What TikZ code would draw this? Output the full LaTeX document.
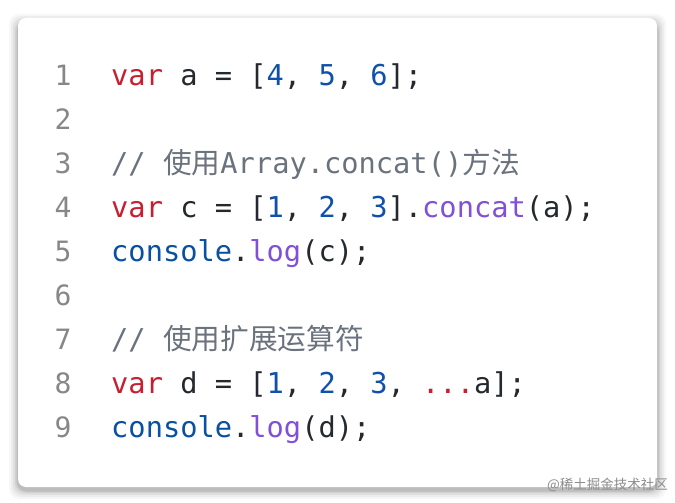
\documentclass[tikz,border=0pt]{standalone}
\usepackage{fontspec}
\setmonofont{DejaVu Sans Mono}
\newfontfamily\cjk{Noto Sans CJK SC}
\definecolor{kw}{RGB}{200,30,50}
\definecolor{num}{RGB}{15,80,170}
\definecolor{fn}{RGB}{130,80,215}
\definecolor{obj}{RGB}{10,80,160}
\definecolor{cm}{RGB}{106,115,125}
\definecolor{pn}{RGB}{36,41,46}
\definecolor{ln}{RGB}{135,135,135}
\newcommand{\cK}[1]{\textcolor{kw}{#1}}
\newcommand{\cN}[1]{\textcolor{num}{#1}}
\newcommand{\cF}[1]{\textcolor{fn}{#1}}
\newcommand{\cO}[1]{\textcolor{obj}{#1}}
\begin{document}
\begin{tikzpicture}[x=1pt,y=-1pt,
  code/.style={anchor=base west,inner sep=0pt,text=pn,font=\fontsize{28.7}{30}\selectfont\ttfamily},
  lnum/.style={anchor=base,inner sep=0pt,text=ln,font=\fontsize{28}{30}\selectfont\ttfamily}]
\useasboundingbox (0,0) rectangle (675,503);
\fill[white] (0,0) rectangle (675,503);
\foreach \i/\o in {9/0.03,7/0.04,5/0.05,3/0.07,1.5/0.09}
  \fill[black,opacity=\o,rounded corners=10] (18-\i,20-\i+3) rectangle (657+\i,487+\i+3);
\fill[white,rounded corners=8] (18,18) rectangle (657,487);
\foreach \n in {1,...,9} \node[lnum] (l\n) at (63,{76+44*(\n-1)+9}) {\n};
\node[code] (c1) at (111,85) {\cK{var} a = [\cN{4}, \cN{5}, \cN{6}];};
\node[code,text=cm] (c3) at (111,173) {// {\cjk 使用}Array.concat(){\cjk 方法}};
\node[code] (c4) at (111,217) {\cK{var} c = [\cN{1}, \cN{2}, \cN{3}].\cF{concat}(a);};
\node[code] (c5) at (111,261) {\cO{console}.\cF{log}(c);};
\node[code,text=cm] (c7) at (111,349) {// {\cjk 使用扩展运算符}};
\node[code] (c8) at (111,393) {\cK{var} d = [\cN{1}, \cN{2}, \cN{3}, \cK{...}a];};
\node[code] (c9) at (111,437) {\cO{console}.\cF{log}(d);};
\node[anchor=base east,inner sep=0pt,text=black!45,font=\fontsize{13.5}{15}\selectfont\cjk] (wm) at (668,489) {@稀土掘金技术社区};
\end{tikzpicture}
\end{document}
